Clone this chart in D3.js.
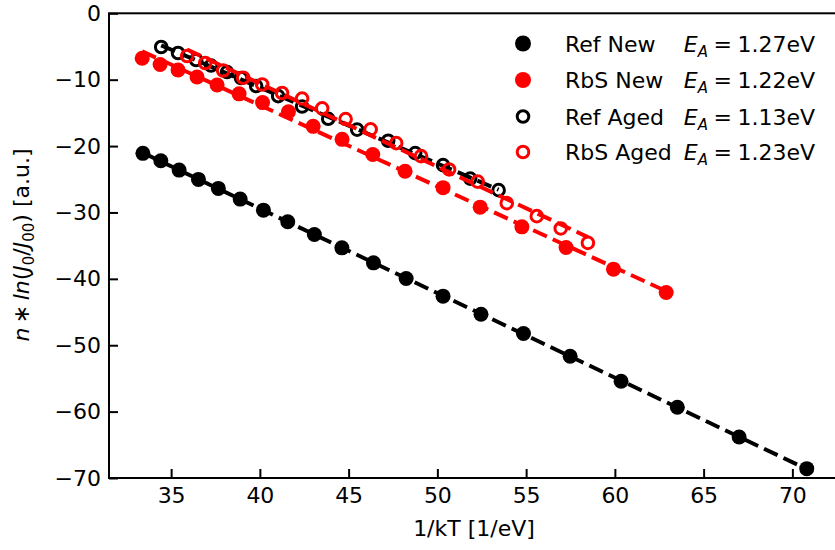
<!DOCTYPE html>
<html>
<head>
<meta charset="utf-8">
<script src="https://cdn.jsdelivr.net/npm/d3@7"></script>
<style>
    html, body { margin: 0; padding: 0; background: #fff; }
    svg { display: block; font-family: "DejaVu Sans", sans-serif; }
</style>
</head>
<body>
<svg id="chart" width="835" height="550"></svg>
<script>
// Ref New (filled black)
const refNewX = [33.41, 34.42, 35.45, 36.54, 37.66, 38.89, 40.2, 41.57, 43.07, 44.62, 46.4, 48.24, 50.32, 52.46, 54.85, 57.48, 60.35, 63.52, 67.0, 70.81];
const refNewY = [-21.1, -22.22, -23.62, -25.02, -26.38, -27.99, -29.65, -31.41, -33.31, -35.33, -37.59, -39.95, -42.61, -45.33, -48.24, -51.66, -55.43, -59.35, -63.82, -68.59];

// RbS New (filled red)
const rbsNewX = [33.37, 34.38, 35.39, 36.46, 37.59, 38.83, 40.15, 41.61, 43.0, 44.63, 46.36, 48.18, 50.32, 52.41, 54.76, 57.25, 59.92, 62.89];
const rbsNewY = [-6.78, -7.72, -8.55, -9.6, -10.81, -12.13, -13.45, -14.83, -17.03, -18.99, -21.28, -23.8, -26.26, -29.2, -32.17, -35.27, -38.54, -42.06];

// Ref Aged (open black)
const refAgedX = [34.44, 35.39, 36.41, 37.25, 38.15, 38.94, 39.79, 41.03, 42.38, 43.85, 45.48, 47.23, 48.75, 50.32, 51.85, 53.45];
const refAgedY = [-5.08, -5.98, -7.04, -7.87, -8.85, -9.75, -10.96, -12.47, -14.05, -15.89, -17.52, -19.2, -21.06, -22.87, -24.9, -26.64];

// RbS Aged (open red)
const rbsAgedX = [35.9, 36.92, 37.93, 39.06, 40.13, 41.25, 42.38, 43.51, 44.83, 46.24, 47.68, 49.08, 50.66, 52.27, 53.91, 55.6, 56.95, 58.48];
const rbsAgedY = [-6.44, -7.49, -8.62, -9.71, -10.73, -12.01, -12.84, -14.32, -15.93, -17.49, -19.55, -21.51, -23.52, -25.35, -28.6, -30.56, -32.41, -34.58];

const seriesNames = ["Ref New", "RbS New", "Ref Aged", "RbS Aged"];
const activation = ["1.27", "1.22", "1.13", "1.23"];

const xTicks = [35, 40, 45, 50, 55, 60, 65, 70];
const yTicks = [0, -10, -20, -30, -40, -50, -60, -70];

const series = [
    { name: seriesNames[0], ea: activation[0], x: refNewX, y: refNewY, color: "#000", filled: true },
    { name: seriesNames[1], ea: activation[1], x: rbsNewX, y: rbsNewY, color: "#ff0000", filled: true },
    { name: seriesNames[2], ea: activation[2], x: refAgedX, y: refAgedY, color: "#000", filled: false },
    { name: seriesNames[3], ea: activation[3], x: rbsAgedX, y: rbsAgedY, color: "#ff0000", filled: false }
];

const svg = d3.select("#chart");
const margin = { left: 109, top: 13.3, bottom: 478 };
const FONT = "22px";

const x = d3.scaleLinear().domain([31.5, 73.0]).range([margin.left, margin.left + 41.5 * 17.75]);
const y = d3.scaleLinear().domain([-70, 0]).range([margin.bottom, margin.top]);

// least squares fit, drawn from first to last x
const fit = (xs, ys) => {
    const mx = d3.mean(xs), my = d3.mean(ys);
    let num = 0, den = 0;
    xs.forEach((v, i) => {
        num += (v - mx) * (ys[i] - my);
        den += (v - mx) * (v - mx);
    });
    const k = num / den, b = my - k * mx;
    const x0 = d3.min(xs), x1 = d3.max(xs);
    return [{ x: x0, y: k * x0 + b }, { x: x1, y: k * x1 + b }];
};

const line = d3.line().x(d => x(d.x)).y(d => y(d.y));
const plot = svg.append("g");

series.forEach(s => {
    const pts = s.x.map((v, i) => ({ x: v, y: s.y[i] }));
    const dots = plot.append("g")
        .selectAll("circle")
        .data(pts)
        .enter()
        .append("circle")
        .attr("cx", d => x(d.x))
        .attr("cy", d => y(d.y));
    if (s.filled) {
        dots.attr("r", 7.5).attr("fill", s.color);
    } else {
        dots.attr("r", 5.8).attr("fill", "none").attr("stroke", s.color).attr("stroke-width", 3);
    }
    plot.append("path")
        .attr("d", line(fit(s.x, s.y)))
        .attr("fill", "none")
        .attr("stroke", s.color)
        .attr("stroke-width", 4)
        .attr("stroke-dasharray", "15,6.5");
});

// frame (right side falls outside the picture)
svg.append("rect")
    .attr("x", margin.left)
    .attr("y", margin.top)
    .attr("width", x.range()[1] - margin.left)
    .attr("height", margin.bottom - margin.top)
    .attr("fill", "none")
    .attr("stroke", "#000")
    .attr("stroke-width", 2);

const xAxis = svg.append("g")
    .attr("transform", `translate(0,${margin.bottom})`)
    .call(d3.axisBottom(x).tickValues(xTicks).tickSizeInner(-9).tickSizeOuter(0).tickPadding(9));
const yAxis = svg.append("g")
    .attr("transform", `translate(${margin.left},0)`)
    .call(d3.axisLeft(y).tickValues(yTicks).tickSizeInner(-9).tickSizeOuter(0).tickPadding(8));

[xAxis, yAxis].forEach(a => {
    a.select(".domain").remove();
    a.selectAll(".tick line").attr("stroke", "#000").attr("stroke-width", 2);
    a.selectAll(".tick text")
        .attr("fill", "#000")
        .style("font-size", FONT)
        .style("font-family", "'DejaVu Sans', sans-serif");
});
xAxis.selectAll(".tick text").attr("dy", "0.71em");

svg.append("text")
    .attr("x", 474)
    .attr("y", 536)
    .attr("text-anchor", "middle")
    .style("font-size", FONT)
    .text("1/kT [1/eV]");

const yLabel = svg.append("text")
    .attr("transform", "translate(29,245) rotate(-90)")
    .attr("text-anchor", "middle")
    .style("font-size", FONT);
yLabel.append("tspan").attr("font-style", "italic").text("n");
yLabel.append("tspan").text("\u2009\u2217\u2009");
yLabel.append("tspan").attr("font-style", "italic").text("ln");
yLabel.append("tspan").text("(");
yLabel.append("tspan").attr("font-style", "italic").text("J");
yLabel.append("tspan").attr("dy", 5).style("font-size", "15px").text("0");
yLabel.append("tspan").attr("dy", -5).text("/");
yLabel.append("tspan").attr("font-style", "italic").text("J");
yLabel.append("tspan").attr("dy", 5).style("font-size", "15px").text("00");
yLabel.append("tspan").attr("dy", -5).text(") [a.u.]");

// legend
const legend = svg.append("g");
const rowY = [43.5, 80, 116.5, 152];
series.forEach((s, i) => {
    const cy = rowY[i];
    const m = legend.append("circle").attr("cx", 523).attr("cy", cy);
    if (s.filled) {
        m.attr("r", 8).attr("fill", s.color);
    } else {
        m.attr("r", 5.8).attr("fill", "none").attr("stroke", s.color).attr("stroke-width", 3);
    }
    legend.append("text")
        .attr("x", 565)
        .attr("y", cy + 8)
        .style("font-size", FONT)
        .text(s.name);
    const t = legend.append("text")
        .attr("x", 815)
        .attr("y", cy + 8)
        .attr("text-anchor", "end")
        .style("font-size", FONT);
    t.append("tspan").attr("font-style", "italic").text("E");
    t.append("tspan").attr("font-style", "italic").attr("dy", 5).style("font-size", "15px").text("A");
    t.append("tspan").attr("dy", -5).text(`\u2005=\u2005${s.ea}eV`);
});
</script>
</body>
</html>
